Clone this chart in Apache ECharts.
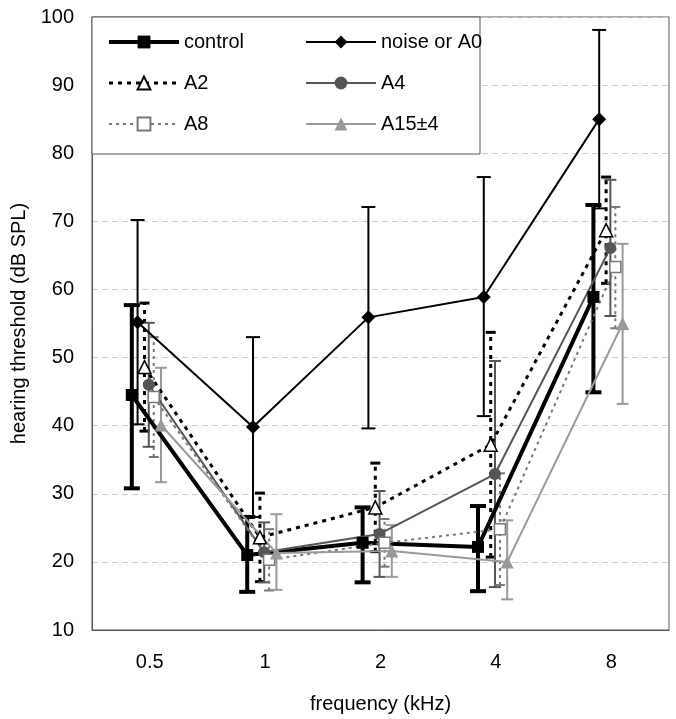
<!DOCTYPE html>
<html>
<head>
<meta charset="utf-8">
<script src="https://cdn.jsdelivr.net/npm/echarts@6/dist/echarts.min.js"></script>
<style>
html, body { margin: 0; padding: 0; background: #fff; }
#main { width: 676px; height: 719px; }
</style>
</head>
<body>
<div id="main"></div>
<script>
// frequencies on the x axis
var freqLabels = ['0.5', '1', '2', '4', '8'];

// mean thresholds and error bar ends (dB SPL)
var controlMean = [44.5, 21.0, 22.8, 22.2, 58.9];
var controlHigh = [57.7, 26.6, 28.0, 28.2, 72.4];
var controlLow  = [30.8, 15.6, 17.0, 15.7, 44.9];

var noiseMean = [55.2, 39.8, 55.9, 58.9, 85.0];
var noiseHigh = [70.2, 53.0, 72.1, 76.5, 98.1];
var noiseLow  = [40.2, 26.6, 39.6, 41.4, 71.9];

var a2Mean = [48.6, 23.6, 28.0, 37.2, 68.7];
var a2High = [58.0, 30.1, 34.5, 53.7, 76.5];
var a2Low  = [39.2, 17.1, 21.5, 20.7, 60.9];

var a4Mean = [46.0, 21.4, 24.1, 32.9, 66.1];
var a4High = [55.1, 25.8, 30.4, 49.5, 76.1];
var a4Low  = [36.9, 17.0, 17.8, 16.3, 56.1];

var a8Mean = [44.2, 20.3, 22.8, 24.8, 63.3];
var a8High = [53.0, 24.8, 26.3, 33.0, 72.1];
var a8Low  = [35.4, 15.8, 19.3, 16.6, 54.3];

var a15Mean = [40.1, 21.3, 21.6, 20.0, 55.0];
var a15High = [48.5, 27.0, 25.4, 26.1, 66.7];
var a15Low  = [31.7, 15.9, 17.8, 14.5, 43.2];

var FONT = '"Liberation Sans", Arial, sans-serif';

var groups = [
    {name: 'control', mean: controlMean, high: controlHigh, low: controlLow,
     shift: -0.155, color: '#000', width: 4, dash: null, symbol: 'rect', size: 12, fill: '#000', cap: 16, barW: 4},
    {name: 'noise or A0', mean: noiseMean, high: noiseHigh, low: noiseLow,
     shift: -0.105, color: '#000', width: 2, dash: null, symbol: 'diamond', size: 14, fill: '#000', cap: 14, barW: 2},
    {name: 'A2', mean: a2Mean, high: a2High, low: a2Low,
     shift: -0.045, color: '#000', width: 3, dash: [4, 5], symbol: 'triangle', size: 13, fill: '#fff', cap: 10, barW: 3},
    {name: 'A4', mean: a4Mean, high: a4High, low: a4Low,
     shift: -0.008, color: '#555', width: 2, dash: null, symbol: 'circle', size: 12, fill: '#555', cap: 12, barW: 2},
    {name: 'A8', mean: a8Mean, high: a8High, low: a8Low,
     shift: 0.035, color: '#777', width: 2, dash: [3, 4], symbol: 'rect', size: 11, fill: '#fff', cap: 10, barW: 2},
    {name: 'A15\u00b14', mean: a15Mean, high: a15High, low: a15Low,
     shift: 0.098, color: '#999', width: 2, dash: null, symbol: 'triangle', size: 13, fill: '#999', cap: 12, barW: 2}
];

var series = [];
groups.forEach(function (g) {
    var errData = g.mean.map(function (v, i) { return [i + g.shift, g.low[i], g.high[i]]; });
    series.push({
        type: 'custom',
        name: g.name + ' err',
        xAxisIndex: 1,
        yAxisIndex: 0,
        z: 2,
        silent: true,
        data: errData,
        encode: {x: 0, y: [1, 2]},
        renderItem: function (params, api) {
            var x = api.value(0);
            var lo = api.coord([x, api.value(1)]);
            var hi = api.coord([x, api.value(2)]);
            var hw = g.cap / 2;
            var st = {stroke: g.color, lineWidth: g.barW, lineDash: g.dash || null, fill: null};
            return {
                type: 'group',
                children: [
                    {type: 'line', shape: {x1: lo[0], y1: lo[1], x2: hi[0], y2: hi[1]}, style: st},
                    {type: 'line', shape: {x1: hi[0] - hw, y1: hi[1], x2: hi[0] + hw, y2: hi[1]}, style: {stroke: g.color, lineWidth: g.barW}},
                    {type: 'line', shape: {x1: lo[0] - hw, y1: lo[1], x2: lo[0] + hw, y2: lo[1]}, style: {stroke: g.color, lineWidth: g.barW}}
                ]
            };
        }
    });
    series.push({
        type: 'line',
        name: g.name,
        xAxisIndex: 1,
        yAxisIndex: 0,
        z: 3,
        data: g.mean.map(function (v, i) { return [i + g.shift, v]; }),
        symbol: g.symbol,
        symbolSize: g.size,
        showAllSymbol: true,
        lineStyle: {color: g.color, width: g.width, type: g.dash || 'solid'},
        itemStyle: {color: g.fill, borderColor: g.color, borderWidth: g.fill === '#fff' ? 1.5 : 0},
        emphasis: {disabled: true},
        animation: false
    });
});

function legendItem(g) {
    return {
        name: g.name,
        lineStyle: {color: g.color, width: g.width, type: g.dash || 'solid'}
    };
}

var legendBase = {
    orient: 'vertical',
    top: 27,
    itemWidth: 70,
    itemHeight: 16,
    itemGap: 21,
    textStyle: {fontFamily: FONT, fontSize: 20, color: '#000'},
    selectedMode: false
};

var option = {
    animation: false,
    backgroundColor: '#fff',
    grid: {left: 92, top: 17, right: 7, bottom: 89, show: true, borderColor: '#555', borderWidth: 1},
    legend: [
        Object.assign({}, legendBase, {left: 102, data: [groups[0], groups[2], groups[4]].map(legendItem)}),
        Object.assign({}, legendBase, {left: 300, data: [groups[1], groups[3], groups[5]].map(legendItem)})
    ],
    graphic: [{
        type: 'rect',
        z: 1,
        shape: {x: 92, y: 17, width: 388, height: 137},
        style: {fill: '#fff', stroke: '#555', lineWidth: 1}
    }],
    xAxis: [{
        type: 'category',
        data: freqLabels,
        boundaryGap: true,
        axisTick: {show: false},
        axisLine: {lineStyle: {color: '#555'}},
        axisLabel: {fontFamily: FONT, fontSize: 20, color: '#000', margin: 22},
        name: 'frequency (kHz)',
        nameLocation: 'middle',
        nameGap: 64,
        nameTextStyle: {fontFamily: FONT, fontSize: 20, color: '#000'}
    }, {
        type: 'value',
        min: -0.5,
        max: 4.5,
        show: false,
        splitLine: {show: false}
    }],
    yAxis: {
        type: 'value',
        min: 10,
        max: 100,
        interval: 10,
        axisLine: {show: true, onZero: false, lineStyle: {color: '#555'}},
        axisTick: {show: false},
        axisLabel: {fontFamily: FONT, fontSize: 20, color: '#000', margin: 18},
        splitLine: {lineStyle: {color: '#ccc', type: [6, 4], width: 1}},
        name: 'hearing threshold (dB SPL)',
        nameLocation: 'middle',
        nameGap: 62,
        nameTextStyle: {fontFamily: FONT, fontSize: 20, color: '#000'}
    },
    series: series
};

var myChart = echarts.init(document.getElementById('main'));
myChart.setOption(option);
</script>
</body>
</html>
